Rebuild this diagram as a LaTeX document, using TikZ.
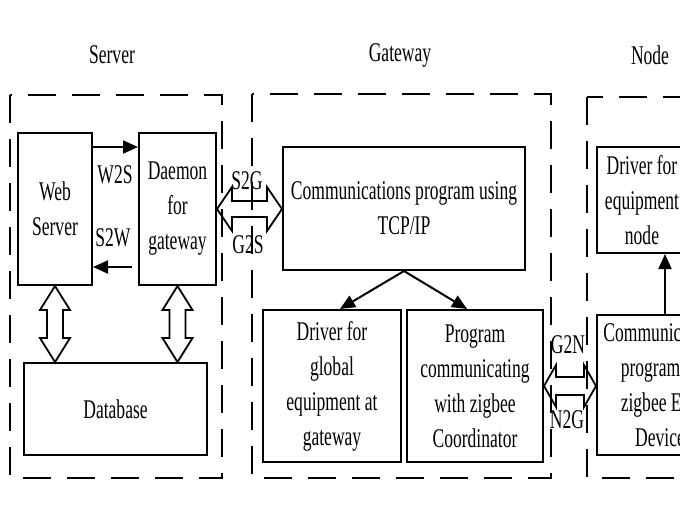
\documentclass[tikz,border=0pt]{standalone}
\usepackage{fontspec}
\setmainfont{Liberation Serif}[FakeStretch=0.65]
\usetikzlibrary{arrows.meta,calc}

% hollow double arrows, drawn between two points
\newcommand{\vhollow}[5]{%
  \draw[hollow] let \p1=(#1), \p2=(#2) in
    (\x1,\y1) -- (\x1+#4,\y1-#5) -- (\x1+#3,\y1-#5) -- (\x1+#3,\y2+#5) -- (\x1+#4,\y2+#5)
    -- (\x1,\y2) -- (\x1-#4,\y2+#5) -- (\x1-#3,\y2+#5) -- (\x1-#3,\y1-#5) -- (\x1-#4,\y1-#5) -- cycle;}
\newcommand{\hhollow}[5]{%
  \draw[hollow] let \p1=(#1), \p2=(#2) in
    (\x1,\y1) -- (\x1+#5,\y1+#4) -- (\x1+#5,\y1+#3) -- (\x2-#5,\y1+#3) -- (\x2-#5,\y1+#4)
    -- (\x2,\y1) -- (\x2-#5,\y1-#4) -- (\x2-#5,\y1-#3) -- (\x1+#5,\y1-#3) -- (\x1+#5,\y1-#4) -- cycle;}

\begin{document}
\begin{tikzpicture}[x=1pt,y=-1pt,font=\fontsize{27}{35}\selectfont,
  box/.style={draw,line width=2pt,inner sep=2pt,align=center},
  dashbox/.style={line width=2.5pt,dash pattern=on 28pt off 16pt},
  hollow/.style={line width=1.8pt,line join=miter},
  link/.style={line width=2pt,-{Triangle[length=15pt,width=13pt]}}]
\clip (0,0) rectangle (680,528);

% titles
\node (tsrv) at (112,55) {Server};
\node (tgw) at (400,55) {Gateway};
\node (tnd) at (650,55) {Node};

% server
\node[box,minimum width=74pt,minimum height=152pt] (web) at (55,209) {Web\\Server};
\node[box,minimum width=77pt,minimum height=152pt] (daemon) at (177.5,209) {Daemon\\for\\gateway};
\node[box,minimum width=183pt,minimum height=92pt] (db) at (115.5,409) {Database};
\draw[link] ([yshift=-15pt]web.north east) -- ([yshift=-15pt]daemon.north west);
\draw[link,shorten <=6pt] ([yshift=19pt]daemon.south west) -- ([yshift=19pt]web.south east);
\node (w2s) at (115,175) {W2S};
\node (s2w) at (113,238) {S2W};
\foreach \b in {web,daemon}
  \vhollow{\b.south}{\b.south |- db.north}{8pt}{15pt}{24pt};

% gateway
\node[box,minimum width=242pt,minimum height=123pt] (tcp) at (404,208.5) {Communications program using\\TCP/IP};
\node[box,minimum width=138pt,minimum height=152pt] (gdrv) at (332,386) {Driver for\\global\\equipment at\\gateway};
\node[box,minimum width=136pt,minimum height=152pt] (coord) at (475,386) {Program\\communicating\\with zigbee\\Coordinator};
\draw[link] (tcp.south) -- ([xshift=8pt]gdrv.north);
\draw[link] (tcp.south) -- ([xshift=-8pt]coord.north);

% node
\node[box,minimum width=90pt,minimum height=106pt] (ndrv) at (642,200) {Driver for\\equipment\\node};
\node[box,minimum width=126pt,minimum height=140pt] (ncomm) at (660,385) {Communication\\program of\\zigbee End\\Device};
\draw[link] ([xshift=5pt]ncomm.north) -- ([xshift=5pt]ncomm.north |- ndrv.south);

% links between parts
\hhollow{daemon.east}{tcp.west}{8pt}{22pt}{15pt}
\hhollow{coord.east}{coord.east -| ncomm.west}{9pt}{21pt}{12pt}
\node (s2g) at (247,181) {S2G};
\node (g2s) at (248,245) {G2S};
\node (g2n) at (568,345) {G2N};
\node (n2g) at (567,420) {N2G};

% dashed borders
\draw[dashbox] (10,95) rectangle (222,478);
\draw[dashbox] (252,94) rectangle (551,478);
\draw[dashbox] (587,97) rectangle (720,478);
\end{tikzpicture}
\end{document}
